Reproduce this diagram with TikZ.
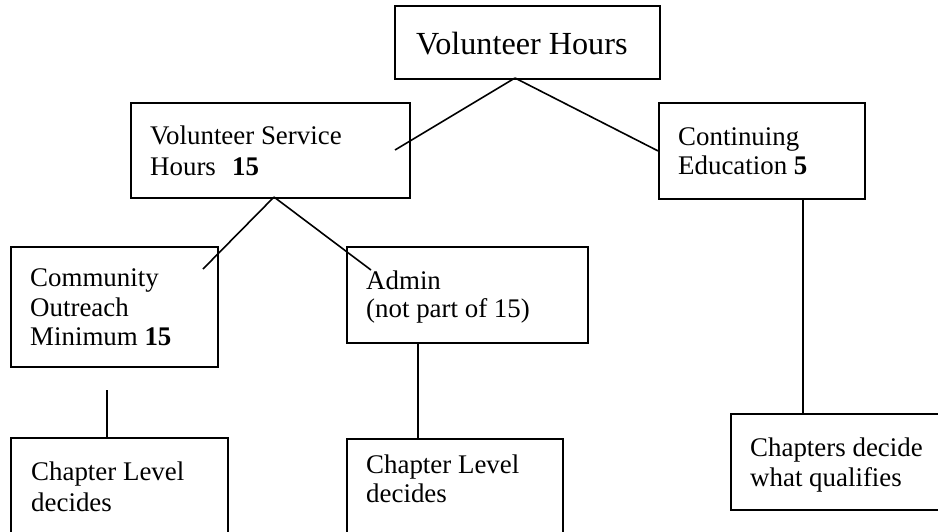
\documentclass[tikz,border=0pt]{standalone}
\usepackage{fontspec}
\setmainfont{Liberation Serif}
\begin{document}
\tikzset{
  box/.style={draw, line width=1.8pt, rectangle, inner sep=0pt, anchor=north west},
  lbl/.style={inner sep=0pt, anchor=base west, font=\fontsize{26.9}{30}\selectfont},
  big/.style={inner sep=0pt, anchor=base west, font=\fontsize{32.2}{36}\selectfont},
  conn/.style={line width=1.6pt}
}
\begin{tikzpicture}[x=1pt,y=-1pt]
\useasboundingbox (0,0) rectangle (938,531);
\clip (0,0) rectangle (938,531);
% boxes
\node[box, minimum width=265pt, minimum height=73pt] (vh) at (394,5) {};
\node[box, minimum width=279pt, minimum height=95pt] (vsh) at (130,102) {};
\node[box, minimum width=206pt, minimum height=96pt] (ce) at (658,102) {};
\node[box, minimum width=207pt, minimum height=120pt] (co) at (10,246) {};
\node[box, minimum width=241pt, minimum height=96pt] (ad) at (346,246) {};
\node[box, minimum width=217pt, minimum height=110pt] (cl1) at (10,437) {};
\node[box, minimum width=216pt, minimum height=110pt] (cl2) at (346,438) {};
\node[box, minimum width=215pt, minimum height=96pt] (cd) at (730,413) {};
% texts
\node[big] (vht) at (416,54) {Volunteer Hours};
\node[lbl] (vsh1) at (150,144) {Volunteer Service};
\node[lbl] (vsh2) at (150,175) {Hours\hspace{0.6em}\textbf{15}};
\node[lbl] (ce1) at (678,145) {Continuing};
\node[lbl] (ce2) at (678,174) {Education \textbf{5}};
\node[lbl] (co1) at (30,286) {Community};
\node[lbl] (co2) at (30,316) {Outreach};
\node[lbl] (co3) at (30,345) {Minimum \textbf{15}};
\node[lbl] (ad1) at (366,289) {Admin};
\node[lbl] (ad2) at (366,317) {(not part of 15)};
\node[lbl] (cl1a) at (31,480) {Chapter Level};
\node[lbl] (cl1b) at (31,511) {decides};
\node[lbl] (cl2a) at (366,473) {Chapter Level};
\node[lbl] (cl2b) at (366,502) {decides};
\node[lbl] (cd1) at (750,456) {Chapters decide};
\node[lbl] (cd2) at (750,486) {what qualifies};
% connector end points
\coordinate (vhs) at (515,78);
\coordinate (vshin) at (395,150);
\coordinate (vshs) at (274,197);
\coordinate (coin) at (203,269);
\coordinate (adin) at (371,270);
\coordinate (colow) at (107,390);
\coordinate (cl1n) at (107,437);
\coordinate (ads) at (418,342);
\coordinate (cl2n) at (418,438);
\coordinate (ces) at (803,198);
\coordinate (cdn) at (803,413);
% connectors
\draw[conn] (vhs) -- (vshin);
\draw[conn] (vhs) -- (ce.west);
\draw[conn] (vshs) -- (coin);
\draw[conn] (vshs) -- (adin);
\draw[conn] (colow) -- (cl1n);
\draw[conn] (ads) -- (cl2n);
\draw[conn] (ces) -- (cdn);
\end{tikzpicture}
\end{document}
